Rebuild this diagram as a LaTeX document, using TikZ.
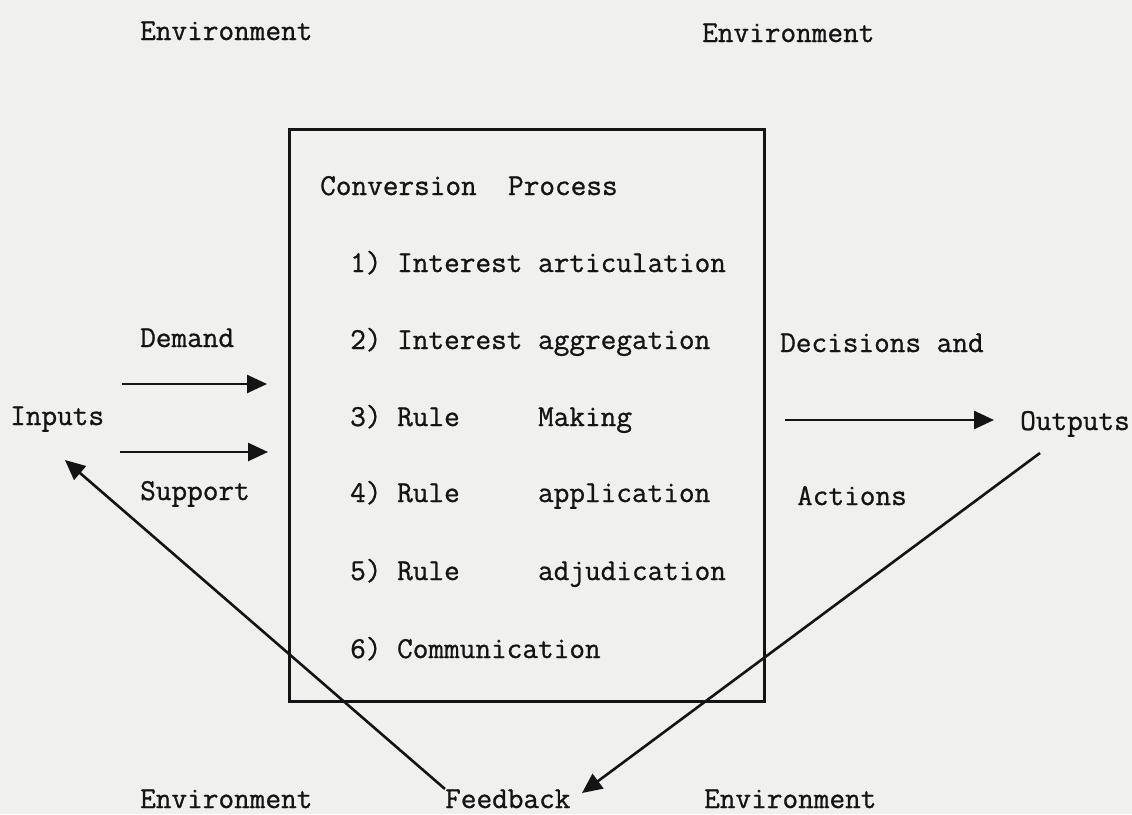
\documentclass[tikz,border=0pt]{standalone}
\usepackage{fontspec}
\newfontfamily\typewriter{Latin Modern Mono}[FakeBold=0.9]
\usetikzlibrary{arrows.meta}
\definecolor{paper}{RGB}{240,240,238}
\definecolor{ink}{RGB}{20,20,20}
\tikzset{
  lbl/.style={anchor=base west, inner sep=0pt, text=ink,
    font=\typewriter\fontsize{30.4}{36}\selectfont},
  arr/.style={draw=ink, line width=2.6pt,
    -{Triangle[length=20pt,width=18pt]}},
  procbox/.style={draw=ink, line width=2.8pt, anchor=north west,
    minimum width=475pt, minimum height=572pt, inner sep=0pt}
}
\begin{document}
\begin{tikzpicture}[x=1pt,y=-1pt]
\fill[paper] (0,0) rectangle (1132,814);
\useasboundingbox (0,0) rectangle (1132,814);

% box
\node[procbox] (box) at (288,128) {};

% environment labels
\node[lbl] (env1) at (140,40) {Environment};
\node[lbl] (env2) at (702,42) {Environment};
\node[lbl] (env3) at (140,808) {Environment};
\node[lbl] (env4) at (704,808) {Environment};
\node[lbl] (fb) at (445,808) {Feedback};

% inside box
\node[lbl] (cp) at (320,195) {Conversion~~Process};
\node[lbl] (p1) at (350,272) {1)~Interest~articulation};
\node[lbl] (p2) at (350,349) {2)~Interest~aggregation};
\node[lbl] (p3) at (350,426) {3)~Rule~~~~~Making};
\node[lbl] (p4) at (350,502) {4)~Rule~~~~~application};
\node[lbl] (p5) at (350,580) {5)~Rule~~~~~adjudication};
\node[lbl] (p6) at (350,658) {6)~Communication};

% left side
\node[lbl] (dem) at (140,347) {Demand};
\node[lbl] (inp) at (10,425) {Inputs};
\node[lbl] (sup) at (140,500) {Support};

% right side
\node[lbl] (dec) at (780,352) {Decisions and};
\node[lbl] (out) at (1020,430) {Outputs};
\node[lbl] (act) at (797,505) {Actions};

% connectors
\coordinate (d0) at (122,384);
\coordinate (d1) at (267,384);
\coordinate (s0) at (120,452);
\coordinate (s1) at (268,452);
\coordinate (o0) at (785,420);
\coordinate (o1) at (994,420);
\coordinate (f0) at (445,789);
\coordinate (f1) at (65,460);
\coordinate (g0) at (1040,453);
\coordinate (g1) at (582,793);

\draw[arr] (d0) -- (d1);
\draw[arr] (s0) -- (s1);
\draw[arr] (o0) -- (o1);
\draw[arr] (f0) -- (f1);
\draw[arr] (g0) -- (g1);
\end{tikzpicture}
\end{document}
